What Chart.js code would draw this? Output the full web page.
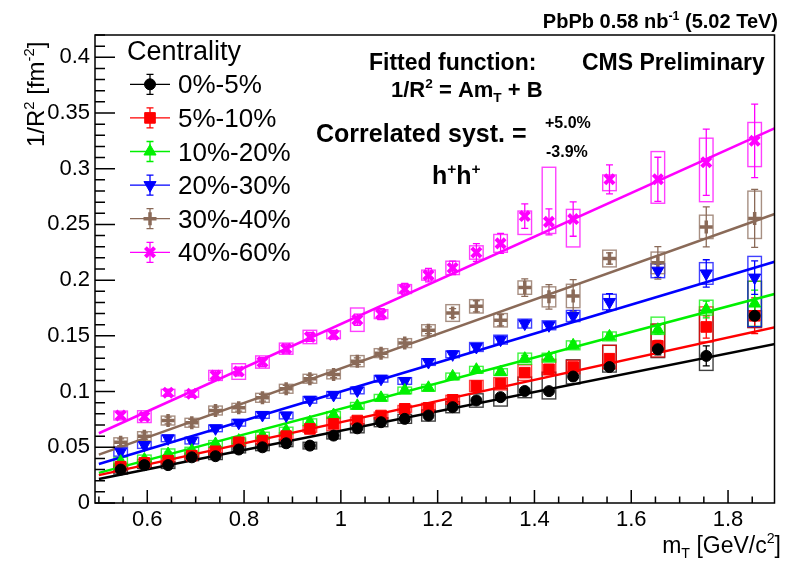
<!DOCTYPE html>
<html lang="en">
<head>
  <meta charset="UTF-8" />
  <title>1/R2 vs mT</title>
  <script src="https://cdn.jsdelivr.net/npm/chart.js@4.4.0/dist/chart.umd.min.js"></script>
  <style>
    html, body { margin: 0; padding: 0; background: #ffffff; }
    #wrap { width: 785px; height: 561px; position: relative; }
  </style>
</head>
<body>
<div id="wrap"><canvas id="chart" width="785" height="561"></canvas></div>
<script>
  // m_T bin centres [GeV/c^2]
  const mT = [0.545, 0.594, 0.643, 0.692, 0.741, 0.789, 0.838, 0.887, 0.936, 0.985, 1.034, 1.083,
              1.132, 1.181, 1.231, 1.280, 1.330, 1.380, 1.430, 1.480, 1.555, 1.655, 1.755, 1.855];

  const labels = ['0%-5%', '5%-10%', '10%-20%', '20%-30%', '30%-40%', '40%-60%'];

  // 1/R^2 values [fm^-2]
  const y0_5   = [0.030, 0.034, 0.034, 0.041, 0.042, 0.048, 0.050, 0.0536, 0.0515, 0.0605, 0.067, 0.0725,
                  0.0755, 0.0785, 0.086, 0.092, 0.095, 0.1005, 0.1004, 0.1135, 0.122, 0.138, 0.132, 0.168];
  const y5_10  = [0.0326, 0.036, 0.038, 0.0425, 0.0464, 0.0545, 0.056, 0.060, 0.0665, 0.071, 0.074, 0.0785,
                  0.0845, 0.0854, 0.0926, 0.105, 0.107, 0.117, 0.120, 0.122, 0.1295, 0.141, 0.158, 0.168];
  const y10_20 = [0.0371, 0.039, 0.044, 0.047, 0.053, 0.056, 0.0605, 0.065, 0.0725, 0.079, 0.0872, 0.0944,
                  0.101, 0.1034, 0.1136, 0.1196, 0.1175, 0.1295, 0.1304, 0.1415, 0.1495, 0.1555, 0.1736, 0.179];
  const y20_30 = [0.0461, 0.052, 0.058, 0.056, 0.067, 0.072, 0.079, 0.0785, 0.0926, 0.097, 0.101, 0.1115,
                  0.1095, 0.1265, 0.1334, 0.140, 0.1466, 0.161, 0.1595, 0.1678, 0.1804, 0.2085, 0.206, 0.2023];
  const y30_40 = [0.0545, 0.060, 0.074, 0.072, 0.083, 0.0854, 0.0944, 0.1025, 0.1115, 0.1154, 0.1273, 0.1345,
                  0.1435, 0.155, 0.1705, 0.1765, 0.164, 0.1933, 0.185, 0.1858, 0.2194, 0.2155, 0.2478, 0.2554];
  const y40_60 = [0.0785, 0.0775, 0.099, 0.098, 0.1145, 0.118, 0.1265, 0.1385, 0.149, 0.151, 0.1645, 0.1695,
                  0.192, 0.2045, 0.211, 0.2248, 0.233, 0.2575, 0.2523, 0.2548, 0.2905, 0.2905, 0.3058, 0.325];

  // statistical errors
  const stat0_5   = [0.002, 0.002, 0.002, 0.002, 0.002, 0.002, 0.002, 0.002, 0.002, 0.002, 0.002, 0.002,
                     0.002, 0.002, 0.002, 0.002, 0.002, 0.002, 0.002, 0.003, 0.003, 0.005, 0.009, 0.010];
  const stat5_10  = [0.002, 0.002, 0.002, 0.002, 0.002, 0.002, 0.002, 0.002, 0.002, 0.002, 0.002, 0.002,
                     0.002, 0.002, 0.002, 0.002, 0.002, 0.003, 0.003, 0.003, 0.004, 0.005, 0.010, 0.016];
  const stat10_20 = [0.002, 0.002, 0.002, 0.002, 0.002, 0.002, 0.002, 0.002, 0.002, 0.002, 0.002, 0.002,
                     0.002, 0.002, 0.002, 0.002, 0.002, 0.003, 0.003, 0.003, 0.003, 0.004, 0.0075, 0.012];
  const stat20_30 = [0.002, 0.002, 0.002, 0.002, 0.002, 0.002, 0.002, 0.002, 0.002, 0.002, 0.002, 0.002,
                     0.002, 0.002, 0.003, 0.003, 0.003, 0.003, 0.003, 0.0045, 0.0075, 0.006, 0.0123, 0.015];
  const stat30_40 = [0.003, 0.003, 0.003, 0.003, 0.003, 0.003, 0.003, 0.003, 0.003, 0.003, 0.003, 0.003,
                     0.003, 0.003, 0.004, 0.005, 0.005, 0.0078, 0.011, 0.0147, 0.005, 0.0145, 0.018, 0.026];
  const stat40_60 = [0.003, 0.003, 0.003, 0.003, 0.004, 0.004, 0.004, 0.004, 0.004, 0.004, 0.005, 0.005,
                     0.005, 0.006, 0.006, 0.008, 0.009, 0.011, 0.0117, 0.0154, 0.013, 0.0198, 0.0297, 0.033];

  // systematic uncertainties (upper / lower extent of box)
  const sysUp0_5   = [0.004, 0.003, 0.003, 0.003, 0.003, 0.003, 0.003, 0.003, 0.003, 0.003, 0.004, 0.004,
                      0.004, 0.005, 0.005, 0.006, 0.008, 0.0125, 0.017, 0.015, 0.0195, 0.0225, 0.041, 0.0045];
  const sysDn0_5   = [0.004, 0.003, 0.003, 0.003, 0.003, 0.003, 0.003, 0.003, 0.003, 0.003, 0.004, 0.004,
                      0.004, 0.005, 0.005, 0.006, 0.008, 0.006, 0.007, 0.0066, 0.0045, 0.0075, 0.013, 0.0105];
  const sysUp5_10  = [0.003, 0.003, 0.003, 0.003, 0.003, 0.003, 0.003, 0.003, 0.003, 0.006, 0.003, 0.003,
                      0.003, 0.004, 0.004, 0.005, 0.0055, 0.007, 0.009, 0.006, 0.012, 0.0195, 0.018, 0.031];
  const sysDn5_10  = [0.003, 0.003, 0.003, 0.003, 0.003, 0.003, 0.003, 0.003, 0.003, 0.006, 0.003, 0.003,
                      0.003, 0.004, 0.004, 0.005, 0.0055, 0.007, 0.005, 0.006, 0.009, 0.0099, 0.0135, 0.0105];
  const sysUp10_20 = [0.004, 0.004, 0.0045, 0.003, 0.003, 0.003, 0.003, 0.003, 0.003, 0.003, 0.003, 0.003,
                      0.003, 0.003, 0.003, 0.003, 0.003, 0.005, 0.004, 0.004, 0.004, 0.0113, 0.0084, 0.020];
  const sysDn10_20 = [0.004, 0.004, 0.0045, 0.003, 0.003, 0.003, 0.003, 0.003, 0.003, 0.003, 0.003, 0.003,
                      0.003, 0.003, 0.003, 0.003, 0.003, 0.005, 0.004, 0.004, 0.004, 0.0042, 0.005, 0.0205];
  const sysUp20_30 = [0.004, 0.003, 0.003, 0.003, 0.003, 0.003, 0.003, 0.003, 0.003, 0.003, 0.003, 0.003,
                      0.003, 0.003, 0.003, 0.004, 0.004, 0.004, 0.004, 0.005, 0.0069, 0.0063, 0.0097, 0.019];
  const sysDn20_30 = [0.004, 0.003, 0.003, 0.003, 0.003, 0.003, 0.003, 0.003, 0.003, 0.003, 0.003, 0.003,
                      0.003, 0.003, 0.003, 0.004, 0.004, 0.004, 0.004, 0.005, 0.0069, 0.0063, 0.0097, 0.044];
  const sysUp30_40 = [0.004, 0.004, 0.004, 0.004, 0.004, 0.004, 0.004, 0.004, 0.004, 0.004, 0.005, 0.004,
                      0.004, 0.005, 0.0075, 0.006, 0.006, 0.006, 0.009, 0.0105, 0.0075, 0.0097, 0.0105, 0.0245];
  const sysDn30_40 = [0.004, 0.004, 0.004, 0.004, 0.004, 0.004, 0.004, 0.004, 0.004, 0.004, 0.005, 0.004,
                      0.004, 0.005, 0.0075, 0.006, 0.006, 0.006, 0.009, 0.0105, 0.0075, 0.0097, 0.0105, 0.018];
  const sysUp40_60 = [0.004, 0.0053, 0.003, 0.003, 0.0045, 0.007, 0.0055, 0.005, 0.006, 0.0035, 0.0105, 0.004,
                      0.004, 0.0045, 0.006, 0.006, 0.008, 0.0045, 0.049, 0.0087, 0.0039, 0.0249, 0.0216, 0.0165];
  const sysDn40_60 = [0.004, 0.0053, 0.003, 0.003, 0.0045, 0.007, 0.0055, 0.005, 0.006, 0.0035, 0.0105, 0.004,
                      0.004, 0.0045, 0.006, 0.006, 0.008, 0.0165, 0.0104, 0.025, 0.0102, 0.0215, 0.0354, 0.0231];

  // linear fits 1/R^2 = A*mT + B
  const fitA = [0.0867, 0.095, 0.115, 0.130, 0.1547, 0.196];
  const fitB = [-0.0218, -0.0225, -0.0305, -0.030, -0.034, -0.0354];
  const fitRange = [0.5, 1.9];

  const FONT = "'Liberation Sans', Arial, Helvetica, sans-serif";
  const colors = ['#000000', '#ff0000', '#00f000', '#0000ff', '#8a6a58', '#ff00ff'];
  const markers = [
    { pointStyle: 'circle', radius: 5.5, rotation: 0, borderWidth: 1 },
    { pointStyle: 'rect', radius: 7.5, rotation: 0, borderWidth: 1 },
    { pointStyle: 'triangle', radius: 7, rotation: 0, borderWidth: 1 },
    { pointStyle: 'triangle', radius: 7, rotation: 180, borderWidth: 1 },
    { pointStyle: 'cross', radius: 6.5, rotation: 0, borderWidth: 3.5 },
    { pointStyle: 'crossRot', radius: 6.5, rotation: 0, borderWidth: 4 }
  ];

  const series = [
    { y: y0_5, stat: stat0_5, up: sysUp0_5, dn: sysDn0_5 },
    { y: y5_10, stat: stat5_10, up: sysUp5_10, dn: sysDn5_10 },
    { y: y10_20, stat: stat10_20, up: sysUp10_20, dn: sysDn10_20 },
    { y: y20_30, stat: stat20_30, up: sysUp20_30, dn: sysDn20_30 },
    { y: y30_40, stat: stat30_40, up: sysUp30_40, dn: sysDn30_40 },
    { y: y40_60, stat: stat40_60, up: sysUp40_60, dn: sysDn40_60 }
  ];

  const datasets = [];
  series.forEach((s, k) => {
    const m = markers[k];
    datasets.push({
      type: 'scatter',
      label: labels[k],
      data: mT.map((x, i) => ({ x: x, y: s.y[i] })),
      pointStyle: m.pointStyle,
      pointRadius: m.radius,
      pointRotation: m.rotation,
      pointBorderWidth: m.borderWidth,
      backgroundColor: colors[k],
      borderColor: colors[k],
      order: 0
    });
  });
  series.forEach((s, k) => {
    datasets.push({
      type: 'line',
      label: labels[k] + ' fit',
      data: fitRange.map(x => ({ x: x, y: fitA[k] * x + fitB[k] })),
      borderColor: colors[k],
      borderWidth: 2.5,
      pointRadius: 0,
      fill: false,
      order: 1
    });
  });

  function fmt(v) {
    return String(+v.toFixed(2));
  }

  // text with super/subscripts: parts = [[text, ''|'sup'|'sub'], ...]
  function richText(ctx, parts, x, y, size, bold, align) {
    const font = s => (bold ? 'bold ' : '') + s + 'px ' + FONT;
    const widths = parts.map(p => {
      ctx.font = font(p[1] ? size * 0.62 : size);
      return ctx.measureText(p[0]).width;
    });
    const total = widths.reduce((a, b) => a + b, 0);
    let cx = align === 'right' ? x - total : x;
    ctx.textAlign = 'left';
    ctx.textBaseline = 'alphabetic';
    parts.forEach((p, i) => {
      ctx.font = font(p[1] ? size * 0.62 : size);
      const dy = p[1] === 'sup' ? -size * 0.42 : (p[1] === 'sub' ? size * 0.22 : 0);
      ctx.fillText(p[0], cx, y + dy);
      cx += widths[i];
    });
  }

  function marker(ctx, k, px, py) {
    ctx.fillStyle = colors[k];
    ctx.strokeStyle = colors[k];
    ctx.lineWidth = markers[k].borderWidth;
    Chart.helpers.drawPoint(ctx, markers[k], px, py);
  }

  const errorBoxes = {
    id: 'errorBoxes',
    beforeDatasetsDraw(chart) {
      const { ctx, chartArea: a, scales } = chart;
      const xs = scales.x, ys = scales.y;
      ctx.save();
      ctx.beginPath();
      ctx.rect(a.left, a.top, a.right - a.left, a.bottom - a.top);
      ctx.clip();
      series.forEach((s, k) => {
        ctx.strokeStyle = colors[k];
        ctx.globalAlpha = 0.75;
        ctx.lineWidth = 1.4;
        mT.forEach((m, i) => {
          const x0 = xs.getPixelForValue(m - 0.014);
          const x1 = xs.getPixelForValue(m + 0.014);
          const yt = ys.getPixelForValue(s.y[i] + s.up[i]);
          const yb = ys.getPixelForValue(s.y[i] - s.dn[i]);
          ctx.strokeRect(x0, yt, x1 - x0, yb - yt);
        });
        ctx.globalAlpha = 1;
        ctx.lineWidth = 1.3;
        mT.forEach((m, i) => {
          const px = xs.getPixelForValue(m);
          const yt = ys.getPixelForValue(s.y[i] + s.stat[i]);
          const yb = ys.getPixelForValue(s.y[i] - s.stat[i]);
          ctx.beginPath();
          ctx.moveTo(px, yt); ctx.lineTo(px, yb);
          ctx.moveTo(px - 3.5, yt); ctx.lineTo(px + 3.5, yt);
          ctx.moveTo(px - 3.5, yb); ctx.lineTo(px + 3.5, yb);
          ctx.stroke();
        });
      });
      ctx.restore();
    }
  };

  const decorations = {
    id: 'decorations',
    afterDraw(chart) {
      const { ctx, chartArea: a, scales } = chart;
      const xs = scales.x, ys = scales.y;
      ctx.save();

      // frame and inner ticks
      ctx.strokeStyle = '#000';
      ctx.lineWidth = 1.5;
      ctx.strokeRect(a.left, a.top, a.right - a.left, a.bottom - a.top);
      ctx.beginPath();
      for (let n = 0; n <= 42; n++) {
        const py = ys.getPixelForValue(n / 100);
        ctx.moveTo(a.left, py);
        ctx.lineTo(a.left + (n % 5 === 0 ? 20 : 10), py);
      }
      for (let n = 10; n <= 37; n++) {
        const v = n * 0.05;
        if (v > xs.max) break;
        const px = xs.getPixelForValue(v);
        ctx.moveTo(px, a.bottom);
        ctx.lineTo(px, a.bottom - (n % 4 === 0 ? 13 : 6.5));
      }
      ctx.stroke();

      ctx.fillStyle = '#000';
      // axis titles
      ctx.save();
      ctx.translate(44, 147);
      ctx.rotate(-Math.PI / 2);
      richText(ctx, [['1/R', ''], ['2', 'sup'], [' [fm', ''], ['-2', 'sup'], [']', '']], 0, 0, 24, false, 'left');
      ctx.restore();
      richText(ctx, [['m', ''], ['T', 'sub'], [' [GeV/c', ''], ['2', 'sup'], [']', '']], 781, 553, 23, false, 'right');

      // header and annotations
      richText(ctx, [['PbPb 0.58 nb', ''], ['-1', 'sup'], [' (5.02 TeV)', '']], 778, 28, 20, true, 'right');
      richText(ctx, [['CMS Preliminary', '']], 582, 70, 23, true, 'left');
      richText(ctx, [['Fitted function:', '']], 369, 70, 23, true, 'left');
      richText(ctx, [['1/R', ''], ['2', 'sup'], [' = Am', ''], ['T', 'sub'], [' + B', '']], 391, 97, 22, true, 'left');
      richText(ctx, [['Correlated syst. =', '']], 316, 142, 25, true, 'left');
      richText(ctx, [['+5.0%', '']], 545, 128, 16, true, 'left');
      richText(ctx, [['-3.9%', '']], 546, 157, 16, true, 'left');
      richText(ctx, [['h', ''], ['+', 'sup'], ['h', ''], ['+', 'sup']], 432, 184, 25, true, 'left');

      // legend
      richText(ctx, [['Centrality', '']], 127, 60, 27, false, 'left');
      labels.forEach((lab, k) => {
        const ly = 84.3 + k * 33.6;
        ctx.strokeStyle = colors[k];
        ctx.lineWidth = 1.3;
        ctx.beginPath();
        ctx.moveTo(130, ly); ctx.lineTo(170, ly);
        ctx.moveTo(150, ly - 10); ctx.lineTo(150, ly + 10);
        ctx.moveTo(146.5, ly - 10); ctx.lineTo(153.5, ly - 10);
        ctx.moveTo(146.5, ly + 10); ctx.lineTo(153.5, ly + 10);
        ctx.stroke();
        marker(ctx, k, 150, ly);
        ctx.fillStyle = '#000';
        richText(ctx, [[lab, '']], 178, ly + 9, 26, false, 'left');
      });
      ctx.restore();
    }
  };

  new Chart(document.getElementById('chart').getContext('2d'), {
    type: 'scatter',
    data: { datasets: datasets },
    options: {
      responsive: false,
      animation: false,
      devicePixelRatio: 1,
      layout: { padding: { left: 0, top: 35, right: 5, bottom: 0 } },
      plugins: { legend: { display: false }, tooltip: { enabled: false } },
      scales: {
        x: {
          type: 'linear', min: 0.492, max: 1.896,
          grid: { display: false, drawTicks: false },
          border: { display: false },
          ticks: {
            stepSize: 0.2, includeBounds: false, autoSkip: false, maxRotation: 0,
            color: '#000', font: { family: FONT, size: 22 }, padding: 4, callback: fmt
          },
          afterFit: s => { s.height = 58; }
        },
        y: {
          type: 'linear', min: 0, max: 0.42,
          grid: { display: false, drawTicks: false },
          border: { display: false },
          ticks: {
            stepSize: 0.05, includeBounds: false, autoSkip: false,
            color: '#000', font: { family: FONT, size: 22 }, padding: 5, callback: fmt
          },
          afterFit: s => { s.width = 95; }
        }
      }
    },
    plugins: [errorBoxes, decorations]
  });
</script>
</body>
</html>
